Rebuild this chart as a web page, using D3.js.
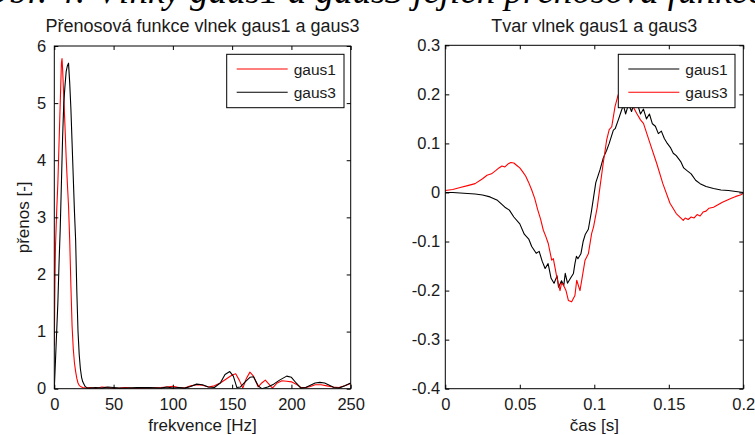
<!DOCTYPE html>
<html>
<head>
<meta charset="utf-8">
<script src="https://cdn.jsdelivr.net/npm/d3@7"></script>
<style>
  body { margin: 0; background: #fff; }
  svg { display: block; font-family: "Liberation Sans", Arial, Helvetica, sans-serif; }
</style>
</head>
<body>
<svg id="chart" width="755" height="435"></svg>
<script>
// ---- Přenosová funkce (spektrum) ----
const freqGaus1 = [0,0.5,1,2,3,4,5,6,6.5,7,8,9,10,11,12,13,14,15,16,17,18,19,20,21,22,24,27,30,
  35,40,45,50,55,60,65,70,80,90,95,100,105,110,115,120,125,130,135,140,145,150,153,156,159,162,165,168,172,175,178,181,184,188,192,196,200,204,208,212,216,220,225,230,235,240,245,250];
const ampGaus1 = [0.75,1.8,2.5,3.1,3.6,4.3,5.0,5.7,5.78,5.6,5.1,4.6,4.05,3.6,3.2,2.6,1.8,1.1,0.7,0.45,0.3,0.18,0.1,0.06,0.04,0.02,0.01,0.02,
  0.005,0.03,0.02,0.005,0.01,0.02,0.01,0.005,0.01,0.02,0.03,0.04,0.02,0.01,0.05,0.07,0.06,0.03,0.05,0.1,0.17,0.24,0.26,0.15,0.01,0.18,0.29,0.22,0.03,0.1,0.15,0.08,0.01,0.1,0.14,0.13,0.12,0.08,0.02,0.02,0.04,0.07,0.07,0.05,0.03,0.02,0.05,0.09];

const freqGaus3 = [0,1,2,3,4,5,6,7,8,9,10,11,12,13,14,15,16,17,18,19,20,21,22,23,24,26,28,30,
  35,40,45,50,55,60,70,80,90,95,100,105,110,115,120,125,130,135,140,144,148,151,154,157,161,165,168,172,175,180,185,190,196,200,204,208,212,216,220,224,228,232,236,240,245,250];
const ampGaus3 = [0,0.5,1.0,1.5,2.2,2.8,3.6,4.4,5.0,5.3,5.55,5.65,5.7,5.35,4.9,4.3,3.7,3.1,2.6,1.7,1.0,0.6,0.35,0.2,0.12,0.04,0.01,0.01,
  0.02,0.01,0.03,0.02,0.01,0.01,0.02,0.02,0.01,0.03,0.01,0.02,0.01,0.04,0.08,0.07,0.03,0.02,0.1,0.25,0.3,0.22,0.02,0.03,0.12,0.2,0.21,0.05,0.0,0.03,0.08,0.15,0.22,0.2,0.1,0.01,0.02,0.06,0.1,0.11,0.1,0.06,0.02,0.01,0.05,0.1];

const freqTicks = [0,50,100,150,200,250];
const freqTickLabels = ["0","50","100","150","200","250"];
const gainTicks = [0,1,2,3,4,5,6];
const gainTickLabels = ["0","1","2","3","4","5","6"];

// ---- Tvar vlnek (časový průběh) ----
const timeGaus1 = [0,0.005,0.01,0.015,0.02,0.025,0.03,0.035,0.04,0.043,0.046,0.05,0.053,0.056,0.058,0.061,0.063,0.065,0.067,0.069,0.071,0.073,0.075,0.076,0.078,0.0795,0.0805,0.082,0.084,0.086,0.087,0.088,0.089,0.091,0.0925,0.094,0.096,0.098,0.0995,0.101,0.1038,0.106,0.1083,0.11,0.1128,0.114,0.116,0.118,0.1195,0.121,0.123,0.125,0.127,0.129,0.131,0.133,0.135,0.137,0.139,0.141,0.143,0.145,0.147,0.149,0.151,0.153,0.155,0.158,0.16,0.162,0.165,0.168,0.171,0.175,0.18,0.185,0.19,0.195,0.2];
const valGaus1 = [0,0,-0.001,-0.002,-0.003,-0.005,-0.009,-0.016,-0.03,-0.036,-0.05,-0.064,-0.085,-0.095,-0.11,-0.124,-0.12,-0.14,-0.155,-0.145,-0.175,-0.185,-0.17,-0.193,-0.18,-0.19,-0.165,-0.185,-0.175,-0.165,-0.145,-0.13,-0.135,-0.125,-0.1,-0.085,-0.075,-0.04,-0.01,0.02,0.046,0.07,0.086,0.1,0.127,0.13,0.147,0.165,0.178,0.16,0.18,0.165,0.185,0.18,0.16,0.17,0.15,0.16,0.14,0.135,0.12,0.125,0.11,0.1,0.092,0.08,0.075,0.063,0.05,0.045,0.038,0.025,0.018,0.012,0.008,0.005,0.004,0.002,0];

const timeGaus3 = [0,0.005,0.01,0.015,0.02,0.025,0.028,0.031,0.034,0.036,0.038,0.04,0.042,0.044,0.046,0.048,0.05,0.052,0.054,0.056,0.058,0.06,0.062,0.064,0.0658,0.0675,0.0691,0.0714,0.0725,0.0748,0.077,0.078,0.079,0.081,0.0826,0.0848,0.087,0.0882,0.0904,0.0938,0.096,0.0982,0.0995,0.102,0.1038,0.106,0.1083,0.11,0.1117,0.1139,0.116,0.118,0.12,0.122,0.124,0.126,0.1285,0.131,0.133,0.1374,0.1419,0.146,0.1508,0.155,0.1597,0.161,0.163,0.165,0.167,0.169,0.171,0.173,0.175,0.177,0.18,0.183,0.186,0.189,0.192,0.195,0.198,0.2];
const valGaus3 = [0.004,0.006,0.01,0.014,0.018,0.028,0.035,0.038,0.045,0.05,0.054,0.052,0.058,0.061,0.06,0.055,0.05,0.042,0.033,0.02,0.005,-0.012,-0.035,-0.055,-0.077,-0.09,-0.104,-0.138,-0.135,-0.172,-0.2,-0.185,-0.187,-0.2,-0.22,-0.223,-0.21,-0.179,-0.2,-0.138,-0.125,-0.084,-0.07,-0.03,0.011,0.06,0.107,0.128,0.134,0.175,0.199,0.2,0.205,0.2,0.19,0.175,0.161,0.148,0.141,0.1,0.059,0.018,-0.022,-0.043,-0.057,-0.052,-0.055,-0.05,-0.052,-0.045,-0.048,-0.04,-0.038,-0.032,-0.03,-0.025,-0.02,-0.016,-0.012,-0.008,-0.005,-0.002];

const timeTicks = [0,0.05,0.1,0.15,0.2];
const timeTickLabels = ["0","0.05","0.1","0.15","0.2"];
const ampTicks = [-0.4,-0.3,-0.2,-0.1,0,0.1,0.2,0.3];
const ampTickLabels = ["-0.4","-0.3","-0.2","-0.1","0","0.1","0.2","0.3"];

const svg = d3.select("#chart");
svg.append("rect").attr("width", 755).attr("height", 435).attr("fill", "#fff");

// caption of the figure, running off the top edge;
// shifted so that the word "gaus1" starts at x = 190
const captionPrefix = "Obr. 4: Vlnky ";
const caption = svg.append("text")
  .attr("x", 0).attr("y", 3)
  .attr("font-family", "'Liberation Serif', 'DejaVu Serif', serif")
  .attr("font-style", "italic")
  .attr("font-size", 37)
  .attr("fill", "#000")
  .text(captionPrefix + "gaus1 a gaus3 jejich přenosová funkce a tvar");
const prefixWidth = caption.node().getSubStringLength(0, captionPrefix.length);
caption.attr("x", 190 - prefixWidth);

function drawPanel(cfg) {
  const x = d3.scaleLinear().domain(cfg.xDomain).range([cfg.left, cfg.right]);
  const y = d3.scaleLinear().domain(cfg.yDomain).range([cfg.bottom, cfg.top]);
  const g = svg.append("g");

  const clipId = "clip-" + cfg.id;
  g.append("clipPath").attr("id", clipId)
    .append("rect")
    .attr("x", cfg.left).attr("y", cfg.top)
    .attr("width", cfg.right - cfg.left).attr("height", cfg.bottom - cfg.top);

  const line = d3.line().x(d => x(d[0])).y(d => y(d[1]));
  cfg.series.forEach(s => {
    g.append("path")
      .datum(d3.zip(s.xs, s.ys))
      .attr("clip-path", `url(#${clipId})`)
      .attr("fill", "none")
      .attr("stroke", s.color)
      .attr("stroke-width", 1.1)
      .attr("stroke-linejoin", "round")
      .attr("d", line);
  });

  const tickLen = 4;
  const fmt = (labels, ticks) => (d) => labels[ticks.indexOf(d)];

  const bottom = g.append("g").attr("transform", `translate(0,${cfg.bottom})`)
    .call(d3.axisBottom(x).tickValues(cfg.xTicks).tickFormat(fmt(cfg.xTickLabels, cfg.xTicks))
      .tickSizeInner(-tickLen).tickSizeOuter(0).tickPadding(10));
  const top = g.append("g").attr("transform", `translate(0,${cfg.top})`)
    .call(d3.axisTop(x).tickValues(cfg.xTicks).tickFormat("").tickSizeInner(-tickLen).tickSizeOuter(0));
  const left = g.append("g").attr("transform", `translate(${cfg.left},0)`)
    .call(d3.axisLeft(y).tickValues(cfg.yTicks).tickFormat(fmt(cfg.yTickLabels, cfg.yTicks))
      .tickSizeInner(-tickLen).tickSizeOuter(0).tickPadding(cfg.yPad));
  const right = g.append("g").attr("transform", `translate(${cfg.right},0)`)
    .call(d3.axisRight(y).tickValues(cfg.yTicks).tickFormat("").tickSizeInner(-tickLen).tickSizeOuter(0));

  [bottom, top, left, right].forEach(a => {
    a.select(".domain").remove();
    a.selectAll("line").attr("stroke", "#000");
    a.selectAll("text").attr("fill", "#1a1a1a").attr("font-size", 16.5)
      .attr("font-family", "'Liberation Sans', Arial, sans-serif");
  });

  g.append("rect")
    .attr("x", cfg.left).attr("y", cfg.top)
    .attr("width", cfg.right - cfg.left).attr("height", cfg.bottom - cfg.top)
    .attr("fill", "none").attr("stroke", "#000").attr("stroke-width", 1);

  // title
  g.append("text")
    .attr("x", (cfg.left + cfg.right) / 2).attr("y", 32)
    .attr("text-anchor", "middle").attr("font-size", 18).attr("fill", "#1a1a1a")
    .text(cfg.title);

  // x label
  g.append("text")
    .attr("x", (cfg.left + cfg.right) / 2).attr("y", 431)
    .attr("text-anchor", "middle").attr("font-size", 17).attr("fill", "#1a1a1a")
    .text(cfg.xLabel);

  if (cfg.yLabel) {
    g.append("text")
      .attr("transform", `translate(29,${(cfg.top + cfg.bottom) / 2}) rotate(-90)`)
      .attr("text-anchor", "middle").attr("font-size", 17).attr("fill", "#1a1a1a")
      .text(cfg.yLabel);
  }

  // legend
  const L = cfg.legend;
  const lg = g.append("g");
  lg.append("rect")
    .attr("x", L.x).attr("y", L.y).attr("width", L.w).attr("height", L.h)
    .attr("fill", "#fff").attr("stroke", "#000").attr("stroke-width", 1);
  cfg.series.forEach((s, i) => {
    const ly = L.y + 14.7 + i * 23.3;
    lg.append("line")
      .attr("x1", L.x + 10).attr("x2", L.x + 61)
      .attr("y1", ly).attr("y2", ly)
      .attr("stroke", s.color).attr("stroke-width", 1.1);
    lg.append("text")
      .attr("x", L.x + 67).attr("y", ly).attr("dy", "0.36em")
      .attr("font-size", 15.5).attr("fill", "#1a1a1a")
      .text(s.name);
  });
}

drawPanel({
  id: "spektrum",
  left: 54.3, right: 350.7, top: 46, bottom: 388.7,
  xDomain: [0, 250], yDomain: [0, 6],
  xTicks: freqTicks, xTickLabels: freqTickLabels,
  yTicks: gainTicks, yTickLabels: gainTickLabels,
  yPad: 8,
  title: "Přenosová funkce vlnek gaus1 a gaus3",
  xLabel: "frekvence [Hz]",
  yLabel: "přenos [-]",
  legend: { x: 226.7, y: 54.3, w: 117.3, h: 53.4 },
  series: [
    { name: "gaus1", color: "#ff0000", xs: freqGaus1, ys: ampGaus1 },
    { name: "gaus3", color: "#000000", xs: freqGaus3, ys: ampGaus3 }
  ]
});

drawPanel({
  id: "tvar",
  left: 445.3, right: 743.3, top: 45.3, bottom: 388.7,
  xDomain: [0, 0.2], yDomain: [-0.4, 0.3],
  xTicks: timeTicks, xTickLabels: timeTickLabels,
  yTicks: ampTicks, yTickLabels: ampTickLabels,
  yPad: 5,
  title: "Tvar vlnek gaus1 a gaus3",
  xLabel: "čas [s]",
  yLabel: null,
  legend: { x: 618.3, y: 54.3, w: 116.7, h: 53.4 },
  series: [
    { name: "gaus1", color: "#000000", xs: timeGaus1, ys: valGaus1 },
    { name: "gaus3", color: "#ff0000", xs: timeGaus3, ys: valGaus3 }
  ]
});
</script>
</body>
</html>
